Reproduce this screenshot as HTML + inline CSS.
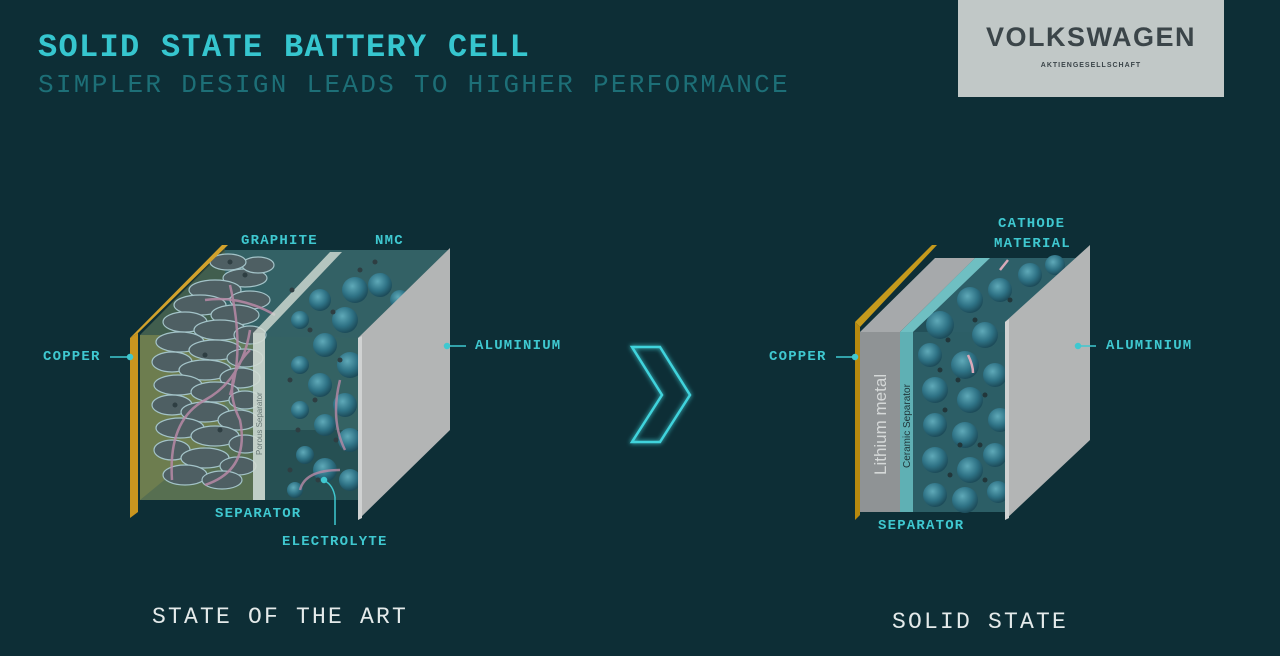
<!DOCTYPE html>
<html><head><meta charset="utf-8"><style>
html,body{margin:0;padding:0;background:#0d2e36;}
body{width:1280px;height:656px;overflow:hidden;position:relative;font-family:"Liberation Mono",monospace;}
.t{position:absolute;white-space:nowrap;}
.lab{position:absolute;color:#3fc8d0;font:bold 14px "Liberation Mono",monospace;letter-spacing:1.2px;white-space:nowrap;}
</style></head><body>
<div class="t" style="left:38px;top:29px;color:#36c6cf;font:bold 32px 'Liberation Mono',monospace;letter-spacing:1.3px;">SOLID STATE BATTERY CELL</div>
<div class="t" style="left:38px;top:70px;color:#1d6f77;font:26px 'Liberation Mono',monospace;letter-spacing:2.3px;">SIMPLER DESIGN LEADS TO HIGHER PERFORMANCE</div>
<div style="position:absolute;left:958px;top:0;width:266px;height:97px;background:#c1c8c7;">
 <div class="t" style="left:0;width:266px;text-align:center;top:22px;color:#3b4549;font:bold 27px 'Liberation Sans',sans-serif;letter-spacing:1.5px;">VOLKSWAGEN</div>
 <div class="t" style="left:0;width:266px;text-align:center;top:62px;color:#3b4549;font:bold 7px 'Liberation Sans',sans-serif;letter-spacing:1px;">AKTIENGESELLSCHAFT</div>
</div>
<svg width="1280" height="656" style="position:absolute;left:0;top:0">
<defs>
<radialGradient id="sp" cx="40%" cy="35%" r="65%"><stop offset="0" stop-color="#5fa9b8"/><stop offset="0.6" stop-color="#2f7386"/><stop offset="1" stop-color="#1d4c5a"/></radialGradient>
<filter id="gl"><feGaussianBlur stdDeviation="2.5" result="b"/><feMerge><feMergeNode in="b"/><feMergeNode in="SourceGraphic"/></feMerge></filter>
</defs>
<!-- LEFT BATTERY -->
<rect x="225" y="250" width="225" height="180" fill="#3b6a6c"/>
<polygon points="140,335 225,250 450,250 358,338" fill="#2f5c60" opacity="0.6"/>
<polygon points="140,335 358,338 358,500 140,500" fill="#32605f" opacity="0.7"/>
<!-- yellow copper overlay -->
<polygon points="140,335 225,248 225,430 140,500" fill="#c4b24a" opacity="0.2"/>
<rect x="140" y="335" width="113" height="165" fill="#c9b94c" opacity="0.3"/>
<!-- graphite blobs -->
<g fill="#4e5f63" stroke="#a3c3c8" stroke-width="1.2">
<ellipse cx="245" cy="278" rx="22" ry="9"/><ellipse cx="215" cy="290" rx="26" ry="10"/><ellipse cx="250" cy="300" rx="20" ry="9"/>
<ellipse cx="200" cy="305" rx="26" ry="10"/><ellipse cx="235" cy="315" rx="24" ry="10"/><ellipse cx="185" cy="322" rx="22" ry="10"/>
<ellipse cx="220" cy="330" rx="26" ry="10"/><ellipse cx="250" cy="335" rx="16" ry="9"/><ellipse cx="180" cy="342" rx="24" ry="10"/>
<ellipse cx="215" cy="350" rx="26" ry="10"/><ellipse cx="245" cy="358" rx="18" ry="9"/><ellipse cx="172" cy="362" rx="20" ry="10"/>
<ellipse cx="205" cy="370" rx="26" ry="10"/><ellipse cx="240" cy="378" rx="20" ry="10"/><ellipse cx="178" cy="385" rx="24" ry="10"/>
<ellipse cx="215" cy="392" rx="24" ry="10"/><ellipse cx="245" cy="400" rx="16" ry="9"/><ellipse cx="172" cy="405" rx="20" ry="10"/>
<ellipse cx="205" cy="412" rx="24" ry="10"/><ellipse cx="238" cy="420" rx="20" ry="10"/><ellipse cx="180" cy="428" rx="24" ry="10"/>
<ellipse cx="215" cy="436" rx="24" ry="10"/><ellipse cx="245" cy="444" rx="16" ry="9"/><ellipse cx="172" cy="450" rx="18" ry="10"/>
<ellipse cx="205" cy="458" rx="24" ry="10"/><ellipse cx="238" cy="466" rx="18" ry="9"/><ellipse cx="185" cy="475" rx="22" ry="10"/>
<ellipse cx="222" cy="480" rx="20" ry="9"/><ellipse cx="258" cy="265" rx="16" ry="8"/><ellipse cx="228" cy="262" rx="18" ry="8"/>
</g>
<g fill="none" stroke="#b88aa6" stroke-width="2.5" opacity="0.85">
<path d="M172,480 Q168,420 205,400 T250,330"/><path d="M205,485 Q250,470 240,420 Q220,380 250,350"/><path d="M205,300 Q240,295 275,315"/><path d="M230,285 Q245,350 230,395"/>
</g>
<!-- separator -->
<polygon points="253,333 330,252 342,252 265,333" fill="#d5dfd6" opacity="0.8"/>
<rect x="253" y="333" width="12" height="167" fill="#d0dcd3" opacity="0.9"/>
<text transform="translate(262,455) rotate(-90)" font-family="Liberation Sans,sans-serif" font-size="8" fill="#6a7a78">Porous Separator</text>
<!-- NMC spheres -->
<g fill="url(#sp)">
<circle cx="355" cy="290" r="13"/><circle cx="380" cy="285" r="12"/><circle cx="320" cy="300" r="11"/><circle cx="345" cy="320" r="13"/>
<circle cx="300" cy="320" r="9"/><circle cx="325" cy="345" r="12"/><circle cx="350" cy="365" r="13"/><circle cx="300" cy="365" r="9"/>
<circle cx="320" cy="385" r="12"/><circle cx="345" cy="405" r="12"/><circle cx="300" cy="410" r="9"/><circle cx="325" cy="425" r="11"/>
<circle cx="350" cy="440" r="12"/><circle cx="305" cy="455" r="9"/><circle cx="325" cy="470" r="12"/><circle cx="350" cy="480" r="11"/>
<circle cx="295" cy="490" r="8"/><circle cx="400" cy="300" r="10"/>
</g>
<g fill="#2e3e42">
<circle cx="292" cy="290" r="2.5"/><circle cx="310" cy="330" r="2.5"/><circle cx="333" cy="312" r="2.5"/><circle cx="290" cy="380" r="2.5"/>
<circle cx="315" cy="400" r="2.5"/><circle cx="336" cy="440" r="2.5"/><circle cx="298" cy="430" r="2.5"/><circle cx="340" cy="360" r="2.5"/>
<circle cx="318" cy="480" r="2.5"/><circle cx="290" cy="470" r="2.5"/><circle cx="360" cy="270" r="2.5"/><circle cx="375" cy="262" r="2.5"/>
<circle cx="230" cy="262" r="2.5"/><circle cx="245" cy="275" r="2.5"/><circle cx="205" cy="355" r="2.5"/><circle cx="220" cy="430" r="2.5"/><circle cx="175" cy="405" r="2.5"/>
</g>
<path d="M300,490 Q305,470 340,470 M340,380 Q330,420 345,450" fill="none" stroke="#b88aa6" stroke-width="2.5" opacity="0.8"/>
<!-- copper plate -->
<polygon points="130,338 222,245 228,245 138,333" fill="#d2a22c"/>
<polygon points="130,338 138,333 138,512 130,518" fill="#c9951f"/>
<!-- aluminium -->
<polygon points="358,338 450,248 450,430 358,520" fill="#b3b5b5"/>
<polygon points="358,338 362,336 362,518 358,520" fill="#d0d2d2"/>
<g stroke="#3fc8d0" stroke-width="1.5" fill="#3fc8d0">
<line x1="110" y1="357" x2="130" y2="357"/><circle cx="130" cy="357" r="2.5"/>
<line x1="447" y1="346" x2="466" y2="346"/><circle cx="447" cy="346" r="2.5"/>
<line x1="335" y1="525" x2="335" y2="497" fill="none"/><path d="M335,497 Q333,485 325,481" fill="none"/><circle cx="324" cy="480" r="2.5"/>
</g>
<!-- chevron -->
<polygon points="632,347 660,347 690,395 660,442 632,442 662,395" fill="none" stroke="#3fd3dc" stroke-width="2.5" filter="url(#gl)"/>
<!-- RIGHT BATTERY -->
<rect x="935" y="258" width="155" height="182" fill="#2e5f68"/>
<polygon points="913,332 990,258 1090,258 1005,332" fill="#2e6068" opacity="0.7"/>
<rect x="913" y="332" width="94" height="180" fill="#2c5e66"/>
<g fill="url(#sp)">
<circle cx="940" cy="325" r="14"/><circle cx="970" cy="300" r="13"/><circle cx="1000" cy="290" r="12"/><circle cx="1030" cy="275" r="12"/>
<circle cx="985" cy="335" r="13"/><circle cx="930" cy="355" r="12"/><circle cx="965" cy="365" r="14"/><circle cx="995" cy="375" r="12"/>
<circle cx="935" cy="390" r="13"/><circle cx="970" cy="400" r="13"/><circle cx="1000" cy="420" r="12"/><circle cx="935" cy="425" r="12"/>
<circle cx="965" cy="435" r="13"/><circle cx="995" cy="455" r="12"/><circle cx="935" cy="460" r="13"/><circle cx="970" cy="470" r="13"/>
<circle cx="935" cy="495" r="12"/><circle cx="965" cy="500" r="13"/><circle cx="998" cy="492" r="11"/><circle cx="1055" cy="265" r="10"/>
</g>
<g fill="#22363a">
<circle cx="948" cy="340" r="2.5"/><circle cx="975" cy="320" r="2.5"/><circle cx="958" cy="380" r="2.5"/><circle cx="985" cy="395" r="2.5"/>
<circle cx="945" cy="410" r="2.5"/><circle cx="980" cy="445" r="2.5"/><circle cx="950" cy="475" r="2.5"/><circle cx="985" cy="480" r="2.5"/>
<circle cx="1010" cy="300" r="2.5"/><circle cx="960" cy="445" r="2.5"/><circle cx="940" cy="370" r="2.5"/>
</g>
<path d="M968,355 q5,10 5,18 M1000,270 l8,-10" stroke="#d9a9b9" stroke-width="2.5" fill="none"/>
<polygon points="900,332 975,258 990,258 913,332" fill="#6fbfc2"/>
<rect x="900" y="332" width="13" height="180" fill="#5fb0b4"/>
<text transform="translate(910,468) rotate(-90)" font-family="Liberation Sans,sans-serif" font-size="10" fill="#1f3438">Ceramic Separator</text>
<polygon points="860,332 935,258 975,258 900,332" fill="#a6a9ab"/>
<rect x="860" y="332" width="40" height="180" fill="#8f9395"/>
<text transform="translate(886,475) rotate(-90)" font-family="Liberation Sans,sans-serif" font-size="17" fill="#d5d8d8">Lithium metal</text>
<polygon points="855,322 932,245 937,245 860,327" fill="#c59a1c"/>
<polygon points="855,322 860,327 860,515 855,520" fill="#b7890e"/>
<polygon points="1005,322 1090,245 1090,440 1005,520" fill="#b3b5b5"/>
<polygon points="1005,322 1009,319 1009,518 1005,520" fill="#d0d2d2"/>
<g stroke="#3fc8d0" stroke-width="1.5" fill="#3fc8d0">
<line x1="836" y1="357" x2="855" y2="357"/><circle cx="855" cy="357" r="2.5"/>
<line x1="1078" y1="346" x2="1096" y2="346"/><circle cx="1078" cy="346" r="2.5"/>
</g>
</svg>
<div class="lab" style="left:241px;top:233px;">GRAPHITE</div>
<div class="lab" style="left:375px;top:233px;">NMC</div>
<div class="lab" style="left:43px;top:349px;">COPPER</div>
<div class="lab" style="left:475px;top:338px;">ALUMINIUM</div>
<div class="lab" style="left:215px;top:506px;">SEPARATOR</div>
<div class="lab" style="left:282px;top:534px;">ELECTROLYTE</div>
<div class="lab" style="left:998px;top:216px;">CATHODE</div>
<div class="lab" style="left:994px;top:236px;">MATERIAL</div>
<div class="lab" style="left:769px;top:349px;">COPPER</div>
<div class="lab" style="left:1106px;top:338px;">ALUMINIUM</div>
<div class="lab" style="left:878px;top:518px;">SEPARATOR</div>
<div class="t" style="left:152px;top:604px;color:#e4eaea;font:23px 'Liberation Mono',monospace;letter-spacing:2.2px;">STATE OF THE ART</div>
<div class="t" style="left:892px;top:609px;color:#e4eaea;font:23px 'Liberation Mono',monospace;letter-spacing:2.2px;">SOLID STATE</div>
</body></html>
